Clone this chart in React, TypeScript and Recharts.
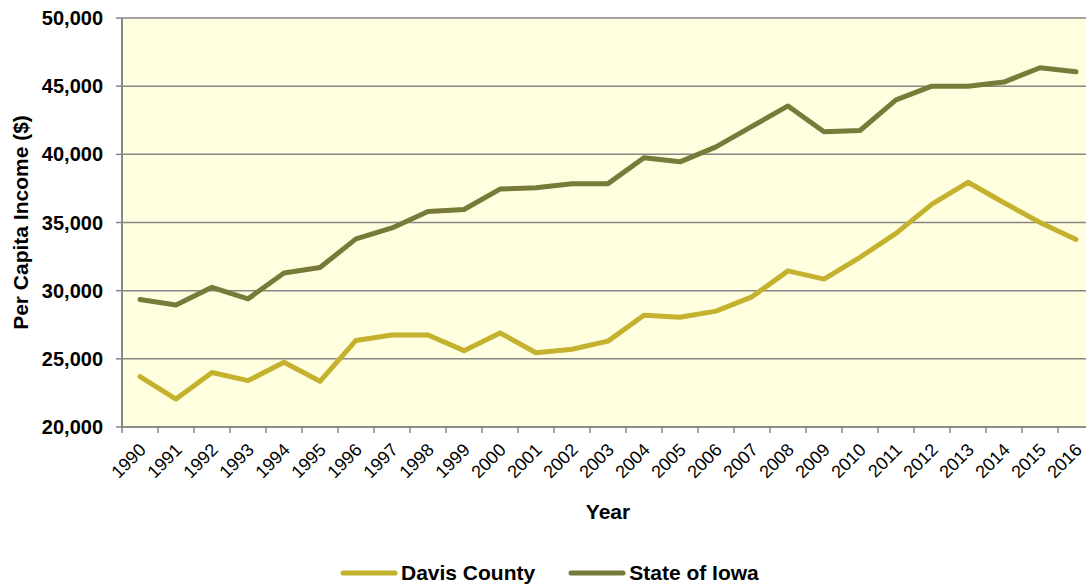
import React from 'react';
import { LineChart, Line, XAxis, YAxis, CartesianGrid, Legend } from 'recharts';

const years = [1990, 1991, 1992, 1993, 1994, 1995, 1996, 1997, 1998, 1999, 2000, 2001, 2002, 2003, 2004, 2005, 2006, 2007, 2008, 2009, 2010, 2011, 2012, 2013, 2014, 2015, 2016];
const davisCounty = [23700, 22050, 24000, 23400, 24750, 23350, 26350, 26750, 26750, 25600, 26900, 25450, 25700, 26300, 28200, 28050, 28500, 29550, 31450, 30850, 32450, 34200, 36350, 37950, 36450, 35000, 33750];
const stateOfIowa = [29350, 28950, 30250, 29400, 31300, 31700, 33800, 34600, 35800, 35950, 37450, 37550, 37850, 37850, 39750, 39450, 40550, 42050, 43550, 41650, 41750, 44000, 45000, 45000, 45300, 46350, 46050];
const yTicks = [20000, 25000, 30000, 35000, 40000, 45000, 50000];
const seriesNames = { davis: 'Davis County', iowa: 'State of Iowa' };

const data = years.map((year, i) => ({ year, davis: davisCounty[i], iowa: stateOfIowa[i] }));
const xTicks: number[] = [];
years.forEach((y) => { xTicks.push(y - 0.5); xTicks.push(y); });
xTicks.push(years[years.length - 1] + 0.5);

const FONT = '"Liberation Sans", Arial, sans-serif';
const GRID = '#868686';
const DAVIS = '#C4B22E';
const IOWA = '#777A39';

const XTick = (props: any) => {
  const { x, y, payload } = props;
  const v = payload.value;
  if (!Number.isInteger(v)) {
    return <line x1={x} x2={x} y1={y - 8} y2={y - 2} stroke={GRID} strokeWidth={1.5} />;
  }
  const ax = x + 7;
  const ay = y + 16;
  return (
    <text x={ax} y={ay} transform={`rotate(-45 ${ax} ${ay})`} textAnchor="end" fontFamily={FONT} fontSize={18} fill="#000">
      {v}
    </text>
  );
};

const YLabel = (props: any) => {
  const { viewBox } = props;
  const cx = viewBox.x + 20;
  const cy = viewBox.y + viewBox.height / 2;
  return (
    <text x={cx} y={cy} transform={`rotate(-90 ${cx} ${cy})`} textAnchor="middle" dominantBaseline="central" fontFamily={FONT} fontSize={21} fontWeight="bold" fill="#000">
      Per Capita Income ($)
    </text>
  );
};

const XLabel = (props: any) => {
  const { viewBox } = props;
  const cx = viewBox.x + viewBox.width / 2;
  const cy = viewBox.y + 84;
  return (
    <text x={cx} y={cy} textAnchor="middle" dominantBaseline="central" fontFamily={FONT} fontSize={21} fontWeight="bold" fill="#000">
      Year
    </text>
  );
};

const LegendContent = (props: any) => {
  const payload = props.payload || [];
  return (
    <div style={{ display: 'flex', alignItems: 'center', height: 30, fontFamily: FONT, fontSize: 21, fontWeight: 'bold', color: '#000' }}>
      {payload.map((p: any, i: number) => (
        <div key={i} style={{ display: 'flex', alignItems: 'center', marginRight: 33 }}>
          <svg width={58} height={8} style={{ marginRight: 3 }}>
            <line x1={3} x2={55} y1={4} y2={4} stroke={p.color} strokeWidth={5} strokeLinecap="round" />
          </svg>
          <span>{p.value}</span>
        </div>
      ))}
    </div>
  );
};

export default function App() {
  return (
    <div style={{ position: 'absolute', left: 0, top: 0, width: 1086, height: 588, overflow: 'hidden', background: '#fff' }}>
      <LineChart width={1100} height={588} data={data} margin={{ top: 18, right: 6, bottom: 0, left: 0 }}>
        <CartesianGrid vertical={false} horizontal={true} fill="#FFFFE0" stroke={GRID} strokeWidth={1.5} />
        <XAxis
          dataKey="year"
          type="number"
          domain={[1989.5, 2016.5]}
          ticks={xTicks}
          interval={0}
          tickLine={false}
          tickSize={6}
          tickMargin={2}
          tick={<XTick />}
          axisLine={{ stroke: GRID, strokeWidth: 1.5 }}
          height={131}
          label={<XLabel />}
          allowDataOverflow
        />
        <YAxis
          domain={[20000, 50000]}
          ticks={yTicks}
          interval={0}
          width={122}
          tickSize={6}
          tickMargin={13}
          tickLine={{ stroke: GRID, strokeWidth: 1.5 }}
          axisLine={{ stroke: GRID, strokeWidth: 2 }}
          tick={{ fontFamily: FONT, fontSize: 20, fontWeight: 'bold', fill: '#000' }}
          tickFormatter={(v: number) => v.toLocaleString('en-US')}
          label={<YLabel />}
        />
        <Legend
          verticalAlign="bottom"
          height={30}
          content={<LegendContent />}
          wrapperStyle={{ left: 340, width: 480, bottom: 0, height: 30 }}
        />
        <Line dataKey="davis" name={seriesNames.davis} stroke={DAVIS} strokeWidth={5} dot={false} strokeLinecap="round" strokeLinejoin="round" isAnimationActive={false} />
        <Line dataKey="iowa" name={seriesNames.iowa} stroke={IOWA} strokeWidth={5} dot={false} strokeLinecap="round" strokeLinejoin="round" isAnimationActive={false} />
      </LineChart>
    </div>
  );
}
